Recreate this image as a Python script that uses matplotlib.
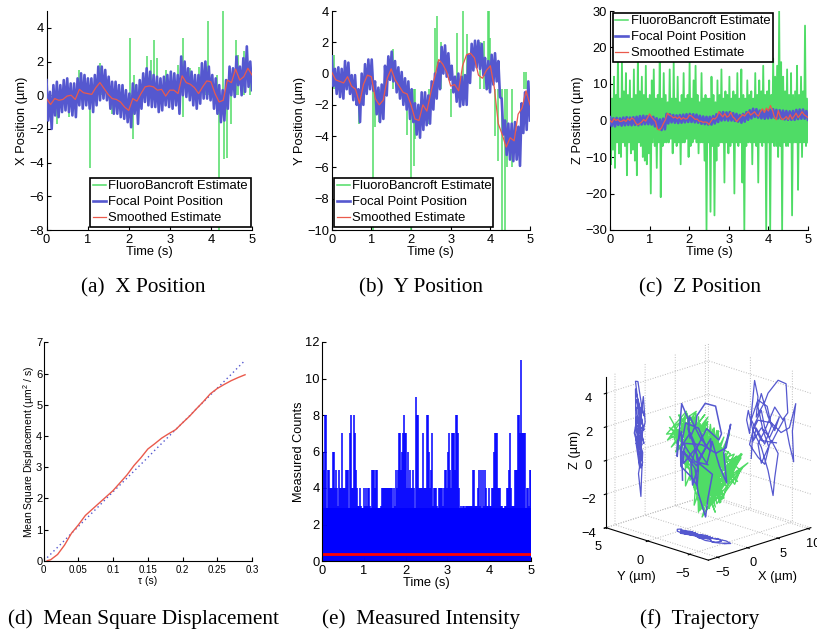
import matplotlib
matplotlib.use('Agg')
import matplotlib.pyplot as plt
import numpy as np

plt.rcParams['font.family'] = ['Liberation Sans', 'DejaVu Sans']
plt.rcParams['mathtext.default'] = 'regular'

W, H = 817, 631
GREEN = '#4fdc66'
BLUE = '#5558cf'
RED = '#ea5a4c'
LABELS = ['FluoroBancroft Estimate', 'Focal Point Position', 'Smoothed Estimate']

# smoothed estimates, one value every 0.1 s
smooth_x = [-0.2, -0.55, -0.2, -0.3, -0.25, -0.05, 0.0, -0.25, 0.35, 0.15, 0.1, 0.05, 0.45, 0.75, 0.4, 0.05, -0.2,
            -0.25, -0.4, -0.7, -0.9, -0.2, -0.35, 0.1, 0.5, 0.55, 0.5, 0.3, 0.35, -0.05, 0.3, 0.3, 0.1, 1.15, 0.75,
            0.65, 0.45, 0.1, 0.5, 0.85, 0.8, 0.1, -0.4, -0.3, 0.9, 0.75, 1.55, 0.9, 1.1, 1.6, 1.2]
smooth_y = [0.1, -0.4, -0.5, -0.6, -0.2, -0.8, -1.0, -1.9, -0.7, -0.1, -0.2, -1.6, -2.0, -1.7, -0.3, 0.3, -0.4,
            -0.8, -1.2, -1.3, -2.0, -2.9, -3.0, -2.0, -2.4, -1.2, -0.2, 0.9, 0.6, 0.1, -0.8, -0.7, -1.1, 0.5, 1.2,
            1.3, 1.0, -0.1, -0.3, 0.2, 0.5, -0.9, -3.2, -3.9, -4.7, -4.1, -4.3, -2.6, -2.2, -1.1, -2.0]
# one value every 0.05 s
smooth_z = [0.0, -0.5, 0.5, 0.0, 0.3, -0.3, -0.2, 0.2, -0.3, 0.5, 0.0, 0.7, 0.3, -0.7, -1.2, -0.8, -0.4, 0.3, -0.2,
            0.8, 1.8, 0.9, 0.3, -0.3, -2.4, -2.6, -2.0, -0.8, 0.2, 2.0, 1.5, 1.2, 0.7, 1.0, 0.5, 1.0, 0.3, 0.8, 0.4,
            0.5, 1.4, 1.3, 0.8, 0.3, 0.4, -0.2, -0.2, -0.5, -0.4, -0.5, -1.1, -0.2, 0.6, 0.4, 1.0, 2.4, 1.6, 1.0,
            1.9, 0.9, 1.2, 2.2, 1.0, 0.5, -0.3, 0.4, 1.0, 1.6, 1.2, 2.0, 2.4, 1.5, 1.9, 2.4, 1.6, 1.2, 2.5, 3.2,
            2.2, 3.4, 2.6, 4.1, 2.9, 1.0, 0.2, 2.7, 1.0, 0.2, 0.5, 1.1, 0.3, 1.6, 0.4, 1.2, 2.0, 0.8, 1.5, 2.4, 1.6,
            1.2, 0.8]

# focal point position, high and low of the band in turn
focal_x = [0.9, -1.5, 0.2, -2.0, 0.6, -1.2, 0.8, -1.3, 0.6, -1.0, 0.9, -0.9, 1.0, -1.0, 0.7, -1.2, 0.7, -1.3, 1.0, -0.6, 1.3, -0.8, 1.2, -0.6,
           1.0, -0.8, 1.0, -1.0, 1.2, -0.6, 1.7, -0.3, 1.7, -0.2, 1.5, -0.3, 1.1, -0.8, 0.8, -1.1, 0.8, -1.1, 0.6, -1.3, 0.6, -1.4, 0.3, -1.6,
           0.1, -1.9, 0.7, -1.1, 0.6, -1.7, 0.9, -0.8, 1.3, -0.4, 1.6, -0.6, 1.4, -0.7, 1.2, -0.7, 1.1, -1.0, 1.0, -0.9, 1.1, -0.6, 1.2, -0.7,
           1.4, -0.8, 1.3, -0.6, 1.2, -1.1, 2.3, 0.0, 2.0, -0.1, 1.6, -0.3, 1.4, -0.6, 1.2, -0.8, 1.2, -0.5, 1.9, -0.2, 2.0, -0.2, 1.7, -0.3,
           1.2, -0.8, 1.0, -1.1, 0.6, -1.6, 0.3, -1.5, 0.9, -0.8, 1.7, 0.0, 1.6, -0.1, 2.3, 0.6, 1.7, 0.0, 2.2, 0.2, 2.9, 0.5, 2.0, 0.3]
focal_y = [1.1, -0.8, 0.3, -1.3, 0.4, -1.5, 0.3, -1.6, 0.8, -1.0, 0.7, -1.3, -0.1, -1.7, -0.1, -2.0, -1.0, -3.1, 0.0, -2.0, 0.6, -1.3, 0.9, -1.0,
           0.9, -1.1, -0.5, -2.6, -0.9, -3.1, -0.7, -2.9, 0.5, -1.4, 1.1, -0.4, 1.4, -0.5, 0.8, -1.2, 0.4, -1.6, 0.1, -2.0, -0.3, -2.3, -0.5, -2.9,
           -1.0, -3.1, -1.9, -3.9, -2.0, -4.1, -1.2, -3.6, -1.2, -3.3, -1.4, -3.2, -0.5, -2.3, 0.0, -1.6, 0.7, -1.0, 1.7, 0.0, 1.8, -0.2, 1.3, -0.4,
           0.5, -1.2, -0.2, -1.8, 0.0, -2.1, -0.2, -2.0, -0.1, -2.0, 1.2, -0.6, 1.9, 0.2, 2.1, 0.4, 2.1, 0.3, 1.9, -0.1, 1.0, -1.0, 0.8, -1.2,
           1.2, -0.7, 1.3, -0.5, 0.8, -1.5, -1.6, -3.9, -3.0, -5.2, -3.2, -5.5, -3.2, -5.6, -3.1, -5.5, -3.4, -5.9, -1.9, -3.8, -1.2, -3.6, -0.5, -3.0]
focal_z = [0.9, -1.5, 0.6, -1.6, 0.7, -1.2, 0.6, -1.4, 0.8, -1.3, 0.9, -1.2, 0.8, -1.3, 0.9, -1.2, 1.0, -1.3, 1.2, -1.1, 1.3, -1.0, 1.2, -1.0,
           1.2, -1.1, 1.0, -1.6, 0.6, -2.2, 0.3, -2.6, 0.5, -2.4, 1.8, -0.8, 1.7, -0.5, 1.5, -0.6, 1.4, -0.7, 1.5, -0.6, 1.6, -0.5, 1.7, -0.4,
           1.8, -0.4, 1.7, -0.5, 1.6, -0.6, 1.3, -0.9, 1.1, -1.0, 1.0, -1.1, 1.0, -1.1, 1.2, -0.8, 1.7, -0.4, 2.2, 0.0, 2.3, 0.1, 2.2, 0.0,
           2.3, 0.0, 2.0, -0.1, 1.8, -0.3, 1.5, -0.6, 1.8, -0.3, 2.3, 0.2, 2.8, 0.6, 3.2, 1.0, 3.1, 0.8, 2.7, 0.6, 2.6, 0.5, 2.8, 0.6,
           3.0, 0.7, 3.1, 0.8, 2.9, 0.6, 2.8, 0.5, 2.7, 0.3, 2.6, 0.2, 2.5, 0.2, 2.6, 0.2, 2.9, 0.4, 3.0, 0.5, 3.0, 0.5, 2.6, 0.2]

# FluoroBancroft spikes that stand out of the blue band
spike_x_t = [0.02, 0.25, 0.55, 0.8, 1.05, 1.3, 1.33, 1.6, 2.03, 2.06, 2.1, 2.13, 2.45, 2.55, 2.62, 2.7, 2.9, 3.2, 3.32, 3.33, 3.5, 3.72, 3.85, 3.92,
             4.15, 4.2, 4.3, 4.32, 4.38, 4.5, 4.6, 4.65, 4.8, 4.95]
spike_x_v = [-1.9, -1.7, -1.3, 1.5, -4.3, 1.9, 1.6, -1.1, 3.4, -1.4, -2.6, 1.2, 2.3, 2.1, 3.3, 2.2, 1.5, 1.8, 3.4, -1.3, 1.6, 1.7, 2.0, 4.4,
             1.2, -8.0, 5.0, -3.8, -3.7, -1.7, 3.3, 2.4, 2.6, 2.0]
spike_y_t = [0.05, 0.68, 1.05, 1.1, 1.2, 1.55, 1.9, 2.0, 2.07, 2.1, 2.45, 2.6, 2.65, 2.75, 3.0, 3.15, 3.3, 3.42, 3.75, 3.85, 3.95, 3.97, 4.0, 4.12, 4.2,
             4.3, 4.37, 4.42, 4.55, 4.85, 4.9]
spike_y_v = [1.2, -3.2, -10.0, -3.4, -3.1, 1.6, -3.9, -10.0, -5.9, -4.2, -3.2, 2.9, 3.7, 2.0, -2.8, 2.6, 4.0, 2.5, 2.0, 2.1, 4.0, 4.0, 2.3, -4.0, -5.6,
             -10.0, -10.0, -6.0, -6.0, 0.1, 0.1]

# z estimate is far noisier than the focal point, high and low in turn
fluoro_z = [15, -12, 6, -8, 12, -13, 7, -6, 18, -9, 6, -10, 16, -6, 8, -7, 13, -15, 7, -6, 11, -9, 6, -8, 14, -11, 7, -15, 17, -6, 8, -7, 12, -10, 7, -11, 15, -12, 6, -9,
            7, -20, 11, -6, 14, -7, 6, -13, 7, -6, 16, -21, 6, -7, 13, -6, 7, -6, 5, -6, 14, -5, 6, -9, 16, -6, 6, -7, 12, -6, 5, -12, 7, -6, 13, -6, 6, -5, 7, -10,
            16, -7, 6, -6, 11, -5, 15, -6, 7, -9, 5, -6, 13, -6, 6, -11, 7, -30, 6, -6, 6, -25, 12, -7, 7, -26, 5, -11, 11, -7, 7, -6, 14, -6, 6, -17, 8, -6, 7, -9,
            12, -7, 6, -6, 8, -20, 7, -6, 13, -7, 6, -6, 14, -17, 7, -30, 6, -7, 11, -6, 7, -6, 8, -12, 6, -6, 13, -7, 7, -17, 11, -6, 8, -7, 15, -6, 7, -30, 8, -6,
            11, -30, 7, -6, 17, -7, 12, -7, 15, -10, 30, -7, 16, -30, 12, -6, 8, -7, 14, -7, 7, -6, 13, -26, 7, -6, 8, -6, 15, -19, 7, -6, 12, -10, 8, -6, 26, -7, 6, -6]

# measured photon counts, 40 values per second
counts = [4, 6, 5, 8, 8, 5, 5, 4, 4, 4, 6, 6, 4, 5, 4, 3, 5, 4, 4, 7, 4, 4, 4, 5, 5, 5, 7, 8, 4, 4, 8, 7, 5, 4, 3, 3, 4, 3, 2, 2,
          4, 3, 4, 3, 4, 4, 3, 5, 5, 5, 4, 5, 5, 2, 1, 2, 3, 4, 4, 4, 4, 4, 4, 4, 4, 4, 4, 4, 4, 3, 5, 4, 5, 7, 7, 5, 6, 7, 8, 7,
          7, 4, 6, 4, 5, 4, 4, 5, 4, 9, 8, 8, 4, 4, 4, 4, 7, 4, 4, 4, 8, 8, 6, 4, 5, 7, 3, 4, 4, 4, 3, 4, 4, 4, 4, 3, 4, 5, 5, 4,
          6, 7, 5, 4, 7, 7, 7, 5, 8, 8, 7, 4, 3, 2, 3, 3, 2, 3, 3, 3, 3, 3, 3, 3, 5, 5, 3, 3, 3, 4, 5, 3, 5, 5, 3, 5, 4, 3, 3, 4,
          3, 3, 4, 4, 6, 7, 7, 7, 4, 4, 4, 3, 3, 2, 3, 3, 4, 4, 5, 7, 4, 3, 3, 3, 5, 5, 5, 8, 8, 7, 11, 7, 7, 7, 7, 4, 4, 3, 5, 5]
mean_count = [0.37, 0.37]

# mean square displacement
tau = [0.005, 0.01, 0.02, 0.03, 0.04, 0.05, 0.06, 0.07, 0.08, 0.09, 0.1, 0.11, 0.12, 0.13, 0.14, 0.15, 0.16, 0.17, 0.18, 0.19, 0.2,
       0.21, 0.22, 0.23, 0.24, 0.25, 0.26, 0.27, 0.28, 0.29]
msd = [0.0, 0.03, 0.2, 0.5, 0.88, 1.15, 1.45, 1.65, 1.85, 2.05, 2.25, 2.5, 2.75, 3.05, 3.3, 3.58, 3.75, 3.93, 4.07, 4.2, 4.42,
       4.63, 4.87, 5.1, 5.35, 5.52, 5.65, 5.77, 5.87, 5.96]
msd_fit = [0.1, 0.21, 0.43, 0.65, 0.88, 1.1, 1.32, 1.54, 1.76, 1.99, 2.21, 2.43, 2.65, 2.87, 3.09, 3.31, 3.54, 3.76, 3.98, 4.2, 4.42,
           4.64, 4.87, 5.09, 5.31, 5.53, 5.75, 5.97, 6.2, 6.42]

# 3d trajectory
traj_x = [-0.9, -1.3, -0.6, -1.0, -1.5, -1.6, -1.1, -0.5, -0.9, -1.3, -1.6, -1.2, -0.5, -0.1, -0.8, -1.2, -0.6, -0.9, -1.5, -0.4,
          -0.6, -0.7, -1.1, -0.5, -1.0, -1.6, -1.0, -0.3, 0.0, -0.3, -0.9, -0.6, -1.1, -1.5, -0.8, -0.2, -0.7, -1.3, -1.8, -0.9,
          -0.4, -0.7, -1.2, -0.6, -1.1, -1.4, -0.7, -0.2, -0.9, -1.3, -0.5, -1.0, -1.6, -0.8, -0.3, -0.9, -1.5, -1.0, -0.5, -0.9]
traj_y = [-0.1, -0.3, 0.25, 0.45, 0.1, -0.5, -0.9, -0.7, -1.7, -2.1, -3.3, -4.25, -4.45, -3.85, -2.9, -1.7, -0.9, -1.3, -2.5, -3.3,
          -2.9, -2.7, -2.1, -1.3, -0.3, -0.9, -2.5, -3.65, -4.65, -5.4, -5.0, -5.15, -4.65, -4.05, -3.3, -2.5, -1.7, -1.3, -0.5, 0.1,
          -0.9, -1.7, -2.2, -1.5, -0.9, -1.3, -2.1, -2.9, -3.45, -2.3, -1.3, -0.3, -0.7, -1.7, -2.5, -2.0, -0.9, -0.1, -1.3, -3.1]
traj_z = [-1.0, 0.7, 1.8, 1.2, 0.45, 3.7, 2.8, 1.55, 2.6, 3.2, 4.16, 4.1, 2.4, 1.9, 2.5, 0.9, 0.0, -1.1, 0.45, -0.2,
          -1.7, -2.8, -1.4, -0.15, 0.7, 1.4, 1.5, 1.1, 1.55, 3.1, 1.4, -0.4, 0.55, 2.0, 1.2, 0.3, 1.1, 2.05, 1.1, -0.2,
          -0.8, -1.1, 0.0, 0.9, 2.2, 3.05, 1.8, 1.1, 2.0, 0.6, 1.0, 0.05, 0.9, 0.1, 1.3, 2.4, 2.6, 1.3, 0.25, 0.4]

# raw FluoroBancroft points in 3d
green_x = [-1.2, 0.4, -0.8, 1.1, -1.5, 0.6, -0.3, 1.4, -1.0, 0.2, 1.2, -0.9, 0.5, -1.4, 0.9, -0.4, 1.5, -1.1, 0.3, -0.7,
           1.3, -0.2, 0.8, -1.3, 1.6, -0.5, 0.7, -1.2, 1.9, 0.1, -0.9, 1.4, -0.3, 2.0, 0.6, -1.0, 1.7, 0.2, -0.6, 1.1,
           -1.4, 0.9, -0.1, 1.5, -1.1, 0.4, -0.8, 1.2, -1.6, 0.3, -0.6, 1.0, -1.3, 0.7, -0.2, 1.4, -1.0, 0.5, 1.8, -0.4,
           1.1, -0.7, 1.6, 0.2, -1.2, 0.8, -0.3, 1.3, -0.9, 0.6, -1.5, 0.1, 0.9, -1.1, 0.4, -0.6, 1.5, -0.2, 1.0, -1.3,
           0.7, 1.7, -0.5, 1.2, 0.3, 1.9, -0.8, 0.5, -1.2, 1.1, -0.4, 1.4, -1.0, 0.6, -0.3, -1.4, 0.8, -0.7, 1.2, -1.1,
           0.2, 1.5, -0.6, 1.8, 0.4, 1.0, -0.9, 1.3, -0.1, 0.7, -1.2, 0.9, -0.5, 1.1, -1.4, 0.3, -0.8, 1.0, -1.3, 0.5,
           -0.2, 1.4, 0.6, -1.0, 1.7, 0.1, -0.7, 1.2, -1.1, 0.8, -0.4, 1.6, 0.3, -1.2, 0.9, -0.6, 1.1, -1.3, 0.4, -0.9,
           1.3, -0.3, 0.7, 1.6, -0.8, 0.2, 1.0, -1.1, 0.5, -0.4,
           -0.6, 0.9, -1.1, 0.3, 1.2, -0.4, 0.7, -1.3, 1.5, 0.1, -0.8, 1.0, -0.2, 1.6, -0.9, 0.5, 1.3, -0.5, 0.8, -1.2,
           0.4, 1.7, -0.3, 1.1, -1.0, 0.6, -0.7, 1.4, 0.2, -1.4, 0.9, -0.1, 1.2, -0.6, 1.8, 0.3, -1.1, 0.7, -0.4, 1.0,
           -1.5, 0.5, 1.3, -0.8, 0.1, 1.5, -0.3, 0.8, -1.2, 0.6, 1.1, -0.5, -1.0, 0.4, 1.6, -0.2, 0.9, -0.9, 1.2, 0.2]
green_y = [1.2, 0.4, 1.0, -0.3, 0.8, -0.6, 0.2, -1.1, 0.6, -0.9, -1.6, -0.4, -2.1, -0.8, -1.5, -2.6, -1.1, -0.2, -1.9, -3.1,
           -2.2, -3.5, -1.4, -2.8, -4.0, -3.0, -4.4, -2.5, -3.7, -1.8, -3.2, -4.6, -3.6, -5.8, -4.1, -2.9, -5.3, -3.4, -2.3, -3.9,
           -1.2, -2.7, -0.5, -1.7, 0.1, -1.0, -2.4, -0.7, 1.3, 0.3, 0.9, -0.2, 1.4, 0.5, -0.9, -1.9, -0.3, -2.2, -3.3, -1.5,
           -2.9, -4.2, -3.1, -5.6, -3.8, -2.6, -1.3, -3.0, -2.0, -0.6, -1.8, 0.0, -1.2, 0.7, -0.4, -1.6, -2.5, -1.0, -3.4, -2.1,
           -3.6, -5.2, -2.8, -3.9, -6.1, -4.3, -3.2, -2.3, -1.4, -2.7, -1.7, -3.0, -0.8, -2.0, -0.1, 1.1, 0.2, -1.3, -0.5, -2.4,
           -1.1, -3.3, -2.2, -4.6, -3.5, -5.7, -3.7, -2.6, -1.9, -3.1, -2.4, -1.0, -2.9, -1.6, -0.3, -1.4, 0.4, -0.7, 1.0, -0.2,
           -1.5, -2.3, -3.8, -2.5, -4.9, -3.0, -1.8, -2.7, -1.2, -3.4, -2.1, -4.4, -3.3, -1.7, -0.9, -2.6, -1.1, 0.6, -0.4, -1.3,
           -2.8, -2.0, -3.6, -5.4, -3.2, -1.9, -2.4, -1.0, -3.0, -2.2,
           -1.4, -0.6, -2.0, 0.5, 1.1, -0.1, -1.3, -2.5, -1.7, -3.2, -4.8, -2.9, -1.6, -0.8, 0.3, -1.1, -2.3, -3.6, -2.6, -1.2,
           -0.4, -1.9, -3.0, -5.1, -3.4, -5.9, -4.0, -2.7, -1.5, -0.2, 0.9, 0.1, -1.0, -2.2, -3.1, -2.0, -3.7, -5.5, -3.3, -2.4,
           -1.8, -0.7, 0.7, -0.5, -1.4, -2.8, -3.9, -2.3, -1.1, -2.1, -3.5, -2.6, -4.7, -3.0, -1.7, -0.3, -1.2, -2.5, -3.2, -2.0]
green_z = [2.6, 0.8, 2.0, 2.9, 0.9, 2.4, 1.1, 2.8, 0.6, 1.8, 2.5, 0.3, 2.9, 1.2, -0.4, 2.2, -0.9, 2.4, 0.7, 1.9,
           -1.6, 1.7, -0.7, 2.1, 0.9, -1.3, 1.2, -2.0, 2.0, -1.5, 0.4, 1.0, -1.2, 0.6, -0.5, -2.4, 0.2, -2.0, 1.7, -1.0,
           1.5, -2.7, 0.9, -1.8, 2.6, -1.1, -2.3, 1.8, 1.6, 2.9, 0.5, 2.2, 1.2, 2.7, -0.6, 1.3, 2.5, -1.7, 0.8, -0.9,
           2.1, 0.2, -1.9, 0.9, -1.0, 2.3, -1.4, 1.4, -2.6, 2.0, -0.8, 2.7, 0.1, 1.6, 2.4, -1.2, 1.9, -1.5, -0.4, 2.2,
           -1.8, 1.1, -2.3, 0.7, 0.4, -0.9, 1.5, -2.5, 2.5, -1.1, 0.6, -2.1, 2.3, -0.7, 1.4, 2.0, 0.7, -1.3, 2.6, 0.0,
           -1.6, 1.8, -2.2, 0.5, -1.4, 1.0, -0.6, 2.1, -1.9, 1.2, -2.4, 1.7, -0.5, 2.4, 0.3, -1.0, 2.8, 0.9, 1.5, 2.5,
           -0.2, -1.7, 1.3, -2.8, 0.8, -1.2, 2.2, -1.6, 1.0, -2.0, 2.0, -0.3, 1.6, -2.2, 2.3, 0.4, -1.5, 1.4, 2.7, -0.7,
           1.7, -2.5, 0.3, 1.1, -1.8, 2.4, -1.1, 1.9, -2.3, 0.6,
           1.8, -0.5, 2.4, 0.6, 2.0, -1.4, 1.1, -2.1, 2.3, -0.3, 0.9, 1.7, -2.4, 0.5, 2.8, -1.0, 2.2, -1.8, 1.4, -0.8,
           2.6, 0.2, -1.5, 1.0, -0.6, 1.2, -1.2, 2.1, -2.6, 1.5, 2.4, 0.7, -1.1, 2.5, -1.9, 0.4, 1.3, -0.4, 0.8, 2.2,
           -0.7, 2.9, 1.4, -0.2, 2.3, -2.2, 1.0, -1.4, 2.7, -2.0, 0.6, 2.0, -0.9, 1.6, -1.6, 2.5, 0.1, -2.3, 1.1, 2.3]

captions = ['(a)  X Position', '(b)  Y Position', '(c)  Z Position',
            '(d)  Mean Square Displacement', '(e)  Measured Intensity', '(f)  Trajectory']


def place(fig, left, top, right, bottom, **kw):
    return fig.add_axes([left / W, 1 - bottom / H, (right - left) / W, (bottom - top) / H], **kw)


def style(ax):
    ax.spines['top'].set_visible(False)
    ax.spines['right'].set_visible(False)
    ax.tick_params(direction='in', length=3, width=0.8, labelsize=9.3, pad=2)
    ax.tick_params(axis='x', pad=3)
    ax.patch.set_alpha(0)


def position_panel(ax, focal, smooth, ylim, yticks, ylabel, legend_box):
    style(ax)
    ax.plot(np.linspace(0, 5, len(focal)), focal, color=BLUE, lw=1.9, zorder=3)
    ax.plot(np.linspace(0, 5, len(smooth)), smooth, color=RED, lw=0.9, zorder=4)
    ax.set_xlim(0, 5)
    ax.set_ylim(*ylim)
    ax.set_xticks(range(6))
    ax.set_yticks(yticks)
    ax.set_yticklabels([str(v).replace('-', '\u2212') for v in yticks])
    ax.set_xlabel('Time (s)', fontsize=9.3, labelpad=0)
    ax.set_ylabel(ylabel, fontsize=9.3, labelpad=1)
    handles = [plt.Line2D([], [], color=GREEN, lw=1.1), plt.Line2D([], [], color=BLUE, lw=1.9),
               plt.Line2D([], [], color=RED, lw=0.9)]
    left, top, right, bottom = legend_box
    leg = ax.legend(handles, LABELS, loc='lower left', fontsize=9.4, fancybox=False, framealpha=1, edgecolor='k',
                    bbox_to_anchor=(left / W, 1 - bottom / H, (right - left) / W, (bottom - top) / H),
                    bbox_transform=ax.figure.transFigure, borderaxespad=0, borderpad=0.2, labelspacing=0.3,
                    handlelength=1.0, handletextpad=0.2, mode='expand')
    leg.get_frame().set_linewidth(1.2)
    leg.set_zorder(10)


fig = plt.figure(figsize=(W / 100, H / 100), dpi=100)

# (a) X position
ax = place(fig, 46.5, 11, 252, 230)
ax.vlines(spike_x_t, 0, spike_x_v, color=GREEN, lw=1.1, zorder=2)
position_panel(ax, focal_x, smooth_x, (-8, 5), [-8, -6, -4, -2, 0, 2, 4], 'X Position (\u00b5m)', (90, 178, 251, 227))

# (b) Y position
ax = place(fig, 331.7, 11, 530, 230)
ax.vlines(spike_y_t, -1, spike_y_v, color=GREEN, lw=1.1, zorder=2)
position_panel(ax, focal_y, smooth_y, (-10, 4), [-10, -8, -6, -4, -2, 0, 2, 4], 'Y Position (\u00b5m)', (334, 178, 493, 227))

# (c) Z position
ax = place(fig, 610, 11, 808, 230)
ax.plot(np.linspace(0, 5, len(fluoro_z)), fluoro_z, color=GREEN, lw=1.3, zorder=2)
position_panel(ax, focal_z, smooth_z, (-30, 30), [-30, -20, -10, 0, 10, 20, 30], 'Z Position (\u00b5m)', (612.5, 13, 773, 62))

# (d) mean square displacement
ax = place(fig, 43.7, 342.3, 252, 560.7)
style(ax)
ax.plot(tau, msd_fit, color=BLUE, lw=1, ls=(0, (1, 2.2)))
ax.plot(tau, msd, color=RED, lw=1)
ax.set_xlim(0, 0.3)
ax.set_ylim(0, 7)
ax.set_xticks([0, 0.05, 0.1, 0.15, 0.2, 0.25, 0.3])
ax.set_xticklabels(['0', '0.05', '0.1', '0.15', '0.2', '0.25', '0.3'], fontsize=7)
ax.set_yticks(range(8))
ax.tick_params(axis='y', labelsize=8, pad=1)
ax.set_xlabel('\u03c4 (s)', fontsize=7.5, labelpad=1)
ax.set_ylabel('Mean Square Displacement (\u00b5m$^2$ / s)', fontsize=7.5, labelpad=-1)

# (e) measured intensity
ax = place(fig, 322.3, 342, 530.7, 561)
style(ax)
ax.vlines(np.linspace(0, 5, len(counts)), 0, counts, color='#0000ff', lw=1.1)
ax.fill_between([0, 5], 0, [2.9, 2.9], color='#0000ff', lw=0)
ax.plot([0, 5], mean_count, color='#ff0000', lw=2)
ax.set_xlim(0, 5)
ax.set_ylim(0, 12)
ax.set_xticks(range(6))
ax.set_yticks(range(0, 13, 2))
ax.set_xlabel('Time (s)', fontsize=9.3, labelpad=0)
ax.set_ylabel('Measured Counts', fontsize=9.2, labelpad=0)

# (f) trajectory
ax = fig.add_axes([579 / W, 1 - 581.5 / H, 252 / W, 252 / H], projection='3d', proj_type='ortho')
ax.patch.set_alpha(0)
ax.view_init(elev=18.5, azim=-135)
xmin, xmax = -6.5, 10.5
ymin, ymax = -7.2, 5
zmin, zmax = -4, 5
ax.set_xlim(xmin, xmax)
ax.set_ylim(ymin, ymax)
ax.set_zlim(zmin, zmax)
ax.set_box_aspect((1, 1, 1.1))
ax.computed_zorder = False
ax.plot(green_x, green_y, green_z, color=GREEN, lw=1.0, zorder=2)
ax.plot(traj_x, traj_y, traj_z, color=BLUE, lw=1.1, zorder=3)
ax.plot([xmax] * len(traj_y), traj_y, traj_z, color=BLUE, lw=0.9, zorder=1)
ax.plot(traj_x, [ymax] * len(traj_x), traj_z, color=BLUE, lw=0.9, zorder=1)
ax.plot(traj_x, traj_y, [zmin] * len(traj_x), color=BLUE, lw=0.9, zorder=1)
ax.set_xticks([-5, 0, 5, 10])
ax.set_yticks([-5, 0, 5])
ax.set_zticks([-4, -2, 0, 2, 4])
ax.tick_params(labelsize=9.3)
ax.tick_params(axis='x', pad=-3)
ax.tick_params(axis='y', pad=-1)
ax.tick_params(axis='z', pad=0)
for axis in (ax.xaxis, ax.yaxis, ax.zaxis):
    axis.set_pane_color((1, 1, 1, 0))
    axis.line.set_color('k')
    axis.line.set_linewidth(0.8)
    axis._axinfo['grid'].update(color='#bbbbbb', linewidth=0.7, linestyle=':')
ax.zaxis.set_ticks_position('upper')
fig.text(778 / W, 1 - 577 / H, 'X (\u00b5m)', fontsize=9.3, ha='center', va='center')
fig.text(636 / W, 1 - 577 / H, 'Y (\u00b5m)', fontsize=9.3, ha='center', va='center')
fig.text(575 / W, 1 - 450 / H, 'Z (\u00b5m)', fontsize=9.3, ha='center', va='center', rotation=90)

for text, cx, cy in zip(captions, [143, 421, 700, 143, 421.5, 700], [288, 288, 288, 619, 619, 619]):
    fig.text(cx / W, 1 - cy / H, text, family=['Liberation Serif'], fontsize=15.3, ha='center', va='center')

fig.savefig('out.png', dpi=100)
